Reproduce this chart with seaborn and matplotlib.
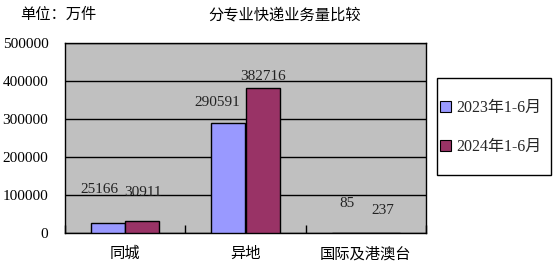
import matplotlib
matplotlib.use("Agg")
import matplotlib.pyplot as plt
import seaborn as sns
import pandas as pd
from matplotlib.patches import Rectangle

categories = ["同城", "异地", "国际及港澳台"]
series_names = ["2023年1-6月", "2024年1-6月"]
values_2023 = [25166, 290591, 85]
values_2024 = [30911, 382716, 237]
y_ticks = [0, 100000, 200000, 300000, 400000, 500000]
colors = ["#9999FF", "#993366"]

# label offsets in pixels (dx, dy) relative to each bar top centre, per series
label_offsets = [
    [(-9, 34), (-11, 20), (-2, 29)],
    [(1, 29), (0, 11), (0, 22)],
]

sns.set_theme(style="white")
plt.rcParams["font.family"] = ["Liberation Serif", "Noto Sans CJK SC"]

df = pd.DataFrame({
    "category": categories * 2,
    "series": [series_names[0]] * 3 + [series_names[1]] * 3,
    "value": values_2023 + values_2024,
})

W, H = 554, 270
fig = plt.figure(figsize=(W / 100, H / 100), dpi=100)
ax = fig.add_axes([65 / W, 1 - 233 / H, 361 / W, 190 / H])
ax.set_facecolor("#C0C0C0")

sns.barplot(data=df, x="category", y="value", hue="series", order=categories,
            hue_order=series_names, palette=colors, width=0.57,
            edgecolor="black", linewidth=1, saturation=1, ax=ax, zorder=3)

ax.set_ylim(0, 500000)
ax.set_xlim(-0.5, 2.5)
ax.set_yticks(y_ticks)
ax.set_yticklabels([str(v) for v in y_ticks], fontsize=11)
ax.tick_params(axis="y", length=0, pad=12, colors="black")
ax.tick_params(axis="x", length=0, pad=10, labelsize=11, colors="black")
ax.set_xticks([0.5 * k for k in range(-1, 6, 2)], minor=True)
ax.tick_params(axis="x", which="minor", direction="in", length=6, width=1, color="black", bottom=True)
ax.set_xlabel("")
ax.set_ylabel("")
ax.yaxis.grid(True, color="black", linewidth=1)
ax.set_axisbelow(True)
for sp in ax.spines.values():
    sp.set_visible(True)
    sp.set_color("black")
    sp.set_linewidth(1)

for si, cont in enumerate(ax.containers):
    for bi, bar in enumerate(cont):
        dx, dy = label_offsets[si][bi]
        val = [values_2023, values_2024][si][bi]
        ax.annotate(str(val), (bar.get_x() + bar.get_width() / 2, bar.get_height()),
                    xytext=(dx * 0.72, dy * 0.72), textcoords="offset points",
                    ha="center", va="center", fontsize=11, color="#222222", zorder=5)

handles, labels = ax.get_legend_handles_labels()
ax.legend_.remove()

# legend frame
fig.patches.append(Rectangle((437 / W, 1 - 175 / H), 114 / W, 97 / H,
                             transform=fig.transFigure, facecolor="white",
                             edgecolor="black", linewidth=1, zorder=1))
leg = fig.legend(handles, labels, loc="center left",
                 bbox_to_anchor=(440 / W, 1 - 127.5 / H),
                 frameon=False, fontsize=11.5, handlelength=0.7, handleheight=0.7,
                 handletextpad=0.3, labelspacing=1.4, borderpad=0,
                 borderaxespad=0)
leg.set_zorder(2)
for h in leg.legend_handles:
    h.set_edgecolor("black")
    h.set_linewidth(0.8)

fig.text(20 / W, 1 - 15 / H, "单位：万件", fontsize=11, ha="left", va="center", color="black")
fig.text(285 / W, 1 - 15 / H, "分专业快递业务量比较", fontsize=11, ha="center", va="center", color="black")

fig.savefig("out.png", dpi=100)
